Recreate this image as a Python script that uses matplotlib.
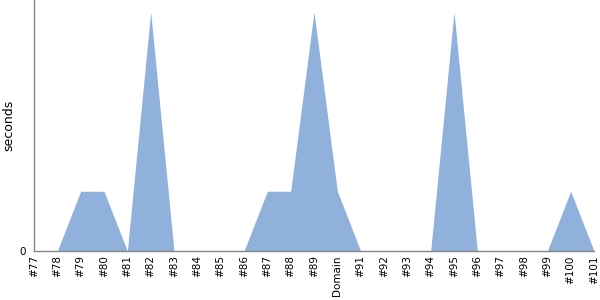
import matplotlib
matplotlib.use("Agg")
import matplotlib.pyplot as plt

labels = ["#77", "#78", "#79", "#80", "#81", "#82", "#83", "#84", "#85", "#86",
          "#87", "#88", "#89", "Domain", "#91", "#92", "#93", "#94", "#95", "#96",
          "#97", "#98", "#99", "#100", "#101"]
seconds = [0, 0, 1, 1, 0, 4, 0, 0, 0, 0,
           1, 1, 4, 1, 0, 0, 0, 0, 4, 0,
           0, 0, 0, 1, 0]

fig = plt.figure(figsize=(6, 3), dpi=100)
ax = fig.add_axes([34 / 600, 49 / 300, 560 / 600, 251 / 300])

x = list(range(len(labels)))
ax.fill_between(x, seconds, 0, color="#8fb1dc", linewidth=0)

ax.set_xlim(0, len(labels) - 1)
ax.set_ylim(0, 4 * 251 / 239)
ax.set_xticks(x)
ax.set_xticklabels(labels, rotation=90, fontsize=7.5)
ax.set_yticks([0])
ax.set_yticklabels(["0"], fontsize=7.5)
ax.tick_params(axis="x", length=0, pad=3)
ax.tick_params(axis="y", length=0, pad=6)
ax.set_ylabel("seconds", fontsize=9, labelpad=3)

for side in ["top", "right"]:
    ax.spines[side].set_visible(False)
for side in ["left", "bottom"]:
    ax.spines[side].set_color("#888888")
    ax.spines[side].set_linewidth(1)

fig.savefig("out.png", dpi=100)
